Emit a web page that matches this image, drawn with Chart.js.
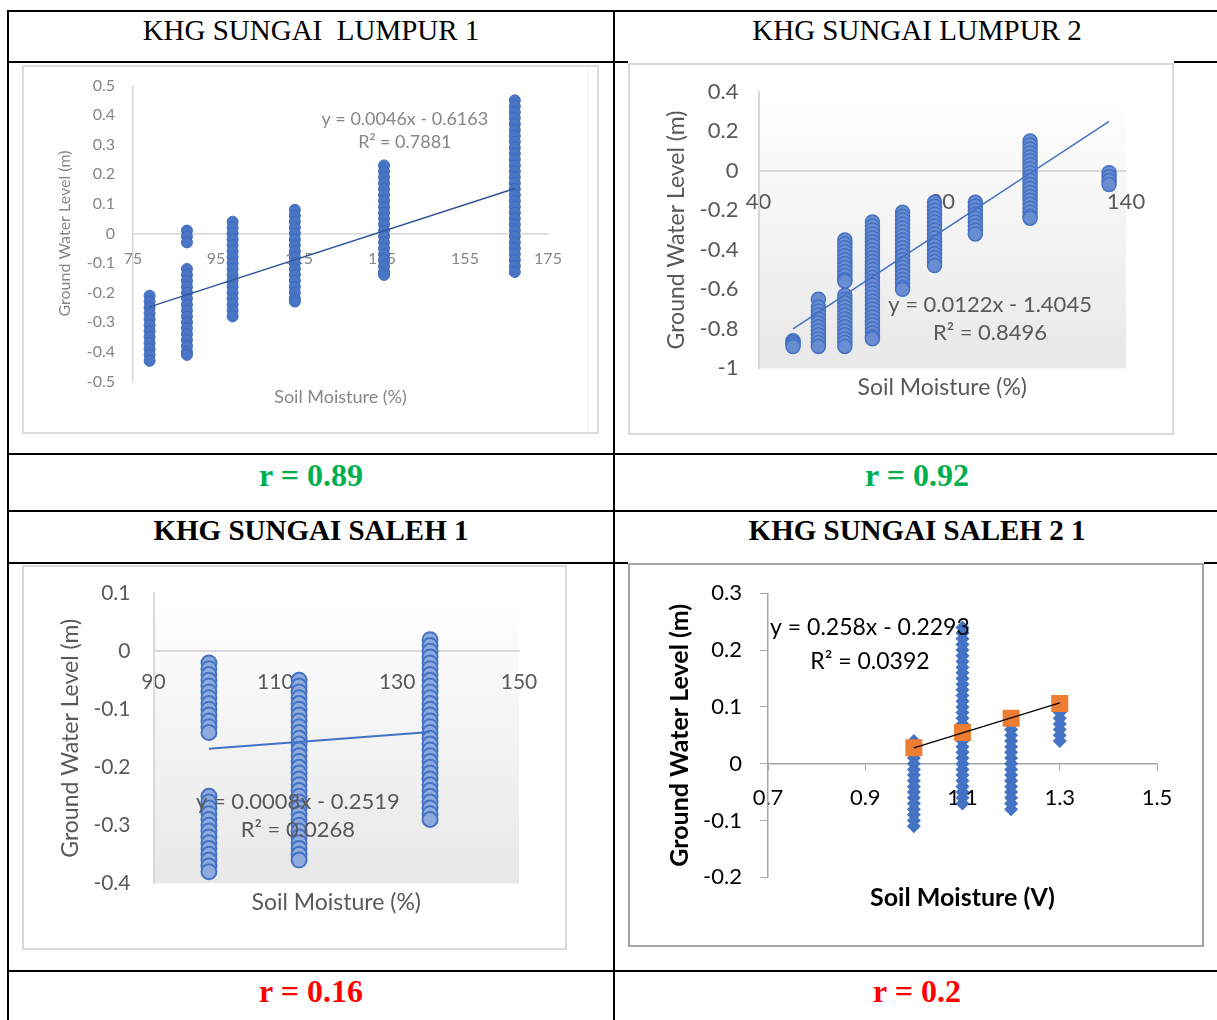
<!DOCTYPE html>
<html>
<head>
<meta charset="utf-8">
<script src="https://cdn.jsdelivr.net/npm/chart.js@4.4.0/dist/chart.umd.min.js"></script>
<style>
  body { margin:0; background:#fff; width:1217px; height:1020px; overflow:hidden; position:relative; font-family:"Liberation Serif", "Times New Roman", serif; }
  .ln { position:absolute; background:#000; }
  .cell { position:absolute; text-align:center; white-space:pre; color:#000; }
  .hdr { font-size:29px; line-height:40px; }
  .b { font-weight:bold; }
  .rv { font-size:32px; line-height:44px; font-weight:bold; }
  .frame { position:absolute; box-sizing:border-box; border:2px solid #d9d9d9; background:#fff; }
  .frame canvas { position:absolute; left:0; top:0; }
  .mask { position:absolute; background:#fff; }
</style>
</head>
<body>
<!-- table rules -->
<div class="ln" style="left:7px;top:10px;width:1212px;height:2px"></div>
<div class="ln" style="left:7px;top:61px;width:1212px;height:2px"></div>
<div class="ln" style="left:7px;top:453px;width:1212px;height:2px"></div>
<div class="ln" style="left:7px;top:510px;width:1212px;height:2px"></div>
<div class="ln" style="left:7px;top:562px;width:1212px;height:2px"></div>
<div class="ln" style="left:7px;top:970px;width:1212px;height:2px"></div>
<div class="ln" style="left:7px;top:10px;width:2px;height:1010px"></div>
<div class="ln" style="left:613px;top:10px;width:2px;height:1010px"></div>

<div class="cell hdr" style="left:9px;width:604px;top:10px">KHG SUNGAI  LUMPUR 1</div>
<div class="cell hdr" style="left:615px;width:604px;top:10px">KHG SUNGAI LUMPUR 2</div>
<div class="cell rv" style="left:9px;width:604px;top:453px;color:#00b050">r = 0.89</div>
<div class="cell rv" style="left:615px;width:604px;top:453px;color:#00b050">r = 0.92</div>
<div class="cell hdr b" style="left:9px;width:604px;top:510px">KHG SUNGAI SALEH 1</div>
<div class="cell hdr b" style="left:615px;width:604px;top:510px">KHG SUNGAI SALEH 2 1</div>
<div class="cell rv" style="left:9px;width:604px;top:969px;color:#ff0000">r = 0.16</div>
<div class="cell rv" style="left:615px;width:604px;top:969px;color:#ff0000">r = 0.2</div>

<div class="mask" style="left:628px;top:60px;width:546px;height:4px"></div>
<div class="mask" style="left:628px;top:561px;width:576px;height:3px"></div>

<div class="frame" id="f1" style="left:22px;top:65px;width:577px;height:369px;border-color:#dcdcdc"><canvas></canvas></div>
<div style="position:absolute;left:587px;top:67px;width:1px;height:365px;background:#ededed"></div>
<div class="frame" id="f2" style="left:628px;top:63px;width:546px;height:372px"><canvas></canvas></div>
<div class="frame" id="f3" style="left:22px;top:565px;width:545px;height:385px"><canvas></canvas></div>
<div class="frame" id="f4" style="left:628px;top:563px;width:576px;height:384px;border-color:#a6a6a6"><canvas></canvas></div>

<script>
// ---- KHG Sungai Lumpur 1 ----
const lumpur1Moisture = [79, 88, 99, 114, 135.5, 167];
const lumpur1Level = [
  [-0.21, -0.23, -0.25, -0.27, -0.29, -0.31, -0.33, -0.35, -0.37, -0.39, -0.41, -0.43],
  [0.01, -0.01, -0.03, -0.12, -0.14, -0.16, -0.18, -0.20, -0.22, -0.24, -0.26, -0.28, -0.30, -0.32, -0.34, -0.36, -0.38, -0.40, -0.41],
  [0.04, 0.02, 0.00, -0.02, -0.04, -0.06, -0.08, -0.10, -0.12, -0.14, -0.16, -0.18, -0.20, -0.22, -0.24, -0.26, -0.28],
  [0.08, 0.06, 0.04, 0.02, 0.00, -0.02, -0.04, -0.06, -0.08, -0.10, -0.12, -0.14, -0.16, -0.18, -0.20, -0.22, -0.23],
  [0.23, 0.21, 0.19, 0.17, 0.15, 0.13, 0.11, 0.09, 0.07, 0.05, 0.03, 0.01, -0.01, -0.03, -0.05, -0.07, -0.09, -0.11, -0.13, -0.14],
  [0.45, 0.43, 0.41, 0.39, 0.37, 0.35, 0.33, 0.31, 0.29, 0.27, 0.25, 0.23, 0.21, 0.19, 0.17, 0.15, 0.13, 0.11, 0.09, 0.07, 0.05, 0.03, 0.01, -0.01, -0.03, -0.05, -0.07, -0.09, -0.11, -0.13]
];
const lumpur1TrendX = [79, 167];
const lumpur1TrendY = [-0.248, 0.152];

// ---- KHG Sungai Lumpur 2 ----
const lumpur2Moisture = [49.4, 56.3, 63.5, 71, 79.2, 87.9, 99, 113.9, 135.4];
const lumpur2Level = [
  [-0.86, -0.87, -0.88, -0.89],
  [-0.65, -0.69, -0.71, -0.73, -0.75, -0.77, -0.79, -0.81, -0.83, -0.85, -0.87, -0.89],
  [-0.35, -0.37, -0.39, -0.41, -0.43, -0.45, -0.47, -0.49, -0.51, -0.53, -0.55, -0.56, -0.63, -0.65, -0.67, -0.69, -0.71, -0.73, -0.75, -0.77, -0.79, -0.81, -0.83, -0.85, -0.87, -0.89],
  [-0.26, -0.28, -0.30, -0.32, -0.34, -0.36, -0.38, -0.40, -0.42, -0.44, -0.46, -0.48, -0.50, -0.52, -0.54, -0.56, -0.58, -0.60, -0.62, -0.64, -0.66, -0.68, -0.70, -0.72, -0.74, -0.76, -0.78, -0.80, -0.82, -0.84, -0.85],
  [-0.21, -0.23, -0.25, -0.27, -0.29, -0.31, -0.33, -0.35, -0.37, -0.39, -0.41, -0.43, -0.45, -0.47, -0.49, -0.51, -0.53, -0.55, -0.57, -0.59, -0.60],
  [-0.16, -0.18, -0.20, -0.22, -0.24, -0.26, -0.28, -0.30, -0.32, -0.34, -0.36, -0.38, -0.40, -0.42, -0.44, -0.46, -0.48],
  [-0.16, -0.18, -0.20, -0.22, -0.24, -0.26, -0.28, -0.30, -0.32],
  [0.15, 0.13, 0.11, 0.09, 0.07, 0.05, 0.03, 0.01, -0.01, -0.03, -0.05, -0.07, -0.09, -0.11, -0.13, -0.15, -0.17, -0.19, -0.21, -0.23, -0.24],
  [-0.01, -0.03, -0.05, -0.07]
];
const lumpur2TrendX = [49.4, 135.4];
const lumpur2TrendY = [-0.80, 0.25];

// ---- KHG Sungai Saleh 1 ----
const saleh1Moisture = [99.1, 113.9, 135.4];
const saleh1Level = [
  [-0.02, -0.03, -0.04, -0.05, -0.06, -0.07, -0.08, -0.09, -0.10, -0.11, -0.12, -0.13, -0.14,
   -0.25, -0.26, -0.27, -0.28, -0.29, -0.30, -0.31, -0.32, -0.33, -0.34, -0.35, -0.36, -0.37, -0.38],
  [-0.05, -0.06, -0.07, -0.08, -0.09, -0.10, -0.11, -0.12, -0.13, -0.14, -0.15, -0.16, -0.17, -0.18, -0.19, -0.20,
   -0.21, -0.22, -0.23, -0.24, -0.25, -0.26, -0.27, -0.28, -0.29, -0.30, -0.31, -0.32, -0.33, -0.34, -0.35, -0.36],
  [0.02, 0.01, 0.00, -0.01, -0.02, -0.03, -0.04, -0.05, -0.06, -0.07, -0.08, -0.09, -0.10, -0.11, -0.12, -0.13,
   -0.14, -0.15, -0.16, -0.17, -0.18, -0.19, -0.20, -0.21, -0.22, -0.23, -0.24, -0.25, -0.26, -0.27, -0.28, -0.29]
];
const saleh1TrendX = [99.1, 135.4];
const saleh1TrendY = [-0.168, -0.139];

// ---- KHG Sungai Saleh 2 1 (voltage) ----
const saleh2Voltage = [1.0, 1.1, 1.2, 1.3];
const saleh2Level = [
  [0.04, 0.03, 0.02, 0.01, 0.00, -0.01, -0.02, -0.03, -0.04, -0.05, -0.06, -0.07, -0.08, -0.09, -0.10, -0.11],
  [0.24, 0.23, 0.22, 0.21, 0.20, 0.19, 0.18, 0.17, 0.16, 0.15, 0.14, 0.13, 0.12, 0.11, 0.10, 0.09,
   0.08, 0.07, 0.06, 0.05, 0.04, 0.03, 0.02, 0.01, 0.00, -0.01, -0.02, -0.03, -0.04, -0.05, -0.06, -0.07],
  [0.08, 0.07, 0.06, 0.05, 0.04, 0.03, 0.02, 0.01, 0.00, -0.01, -0.02, -0.03, -0.04, -0.05, -0.06, -0.07, -0.08],
  [0.09, 0.08, 0.07, 0.06, 0.05, 0.04]
];
const saleh2Mean = [0.028, 0.055, 0.080, 0.106];
const saleh2TrendX = [1.0, 1.3];
const saleh2TrendY = [0.028, 0.107];

const toPoints = (xs, ys) => xs.flatMap((x, i) => ys[i].map(y => ({ x, y })));
const pairs = (xs, ys) => xs.map((x, i) => ({ x, y: ys[i] }));
const fmt = v => String(+(+v).toFixed(3));

Chart.defaults.font.family = 'Lato, "Noto Sans", sans-serif';

// shaded plot area, equation labels and the x title
const extras = {
  id: 'extras',
  beforeDraw(chart, args, o) {
    if (!o.shade) return;
    const { ctx, chartArea: a } = chart;
    const gr = ctx.createLinearGradient(0, a.top, 0, a.bottom);
    gr.addColorStop(0, '#ffffff');
    gr.addColorStop(1, o.shade);
    ctx.save();
    ctx.fillStyle = gr;
    ctx.fillRect(a.left, a.top, a.right - a.left, a.bottom - a.top);
    ctx.restore();
  },
  afterDraw(chart, args, o) {
    const { ctx, chartArea: a, scales } = chart;
    ctx.save();
    ctx.textAlign = 'center';
    ctx.textBaseline = 'middle';
    ctx.fillStyle = o.color;
    ctx.font = o.eqFont;
    o.notes.forEach(n => ctx.fillText(n.text, scales.x.getPixelForValue(n.x), scales.y.getPixelForValue(n.y)));
    ctx.font = o.titleFont;
    ctx.fillText(o.xTitle, (a.left + a.right) / 2, o.xTitleY);
    ctx.restore();
  }
};

function drawChart(id, g, s, datasets) {
  const cv = document.querySelector('#' + id + ' canvas');
  const cx = g.frame[0] + 2, cy = g.frame[1] + 2;
  const cw = g.frame[2] - 4, ch = g.frame[3] - 4;
  cv.width = cw;
  cv.height = ch;
  const weight = s.bold ? 'bold' : 'normal';
  const scaleLeft = g.yTitleX - s.title * 1.2 / 2;
  const grid = s.ticks
    ? { display: true, drawOnChartArea: false, drawTicks: true, color: s.axis }
    : { display: false, drawTicks: false };
  return new Chart(cv, {
    type: 'scatter',
    data: { datasets },
    options: {
      responsive: false,
      animation: false,
      layout: { padding: { left: scaleLeft - cx, top: g.plot[2] - cy, right: cx + cw - g.plot[1], bottom: cy + ch - g.plot[3] } },
      plugins: {
        legend: { display: false },
        tooltip: { enabled: false },
        extras: {
          shade: s.shade, color: s.textColor, notes: g.notes,
          eqFont: s.eq + 'px Lato', titleFont: weight + ' ' + s.xTitle + 'px Lato',
          xTitle: g.xTitle, xTitleY: g.xTitleY - cy
        }
      },
      scales: {
        x: {
          type: 'linear', min: g.x[0], max: g.x[1], position: { y: 0 },
          afterFit: sc => { sc.paddingLeft = 0; sc.paddingRight = 0; },
          grid: Object.assign({}, grid, { tickLength: 6 }),
          border: { display: true, color: s.axis, width: s.axisWidth },
          ticks: { stepSize: g.x[2], padding: s.xPad, color: s.textColor, font: { size: s.tick }, callback: fmt }
        },
        y: {
          type: 'linear', min: g.y[0], max: g.y[1],
          afterFit: sc => { sc.width = g.plot[0] - scaleLeft; sc.paddingTop = 0; sc.paddingBottom = 0; },
          grid: Object.assign({}, grid, { tickLength: 8 }),
          border: { display: true, color: s.axis, width: s.axisWidth },
          ticks: { stepSize: g.y[2], padding: s.yPad, color: s.textColor, font: { size: s.tick }, callback: fmt },
          title: { display: true, text: 'Ground Water Level (m)', padding: 0, color: s.textColor, font: { size: s.title, weight } }
        }
      }
    },
    plugins: [extras]
  });
}

drawChart('f1', {
  frame: [22, 65, 577, 369], plot: [133, 548, 85.5, 381.5],
  x: [75, 175, 20], y: [-0.5, 0.5, 0.1],
  yTitleX: 65, xTitleY: 397, xTitle: 'Soil Moisture (%)',
  notes: [{ text: 'y = 0.0046x - 0.6163', x: 140.5, y: 0.386 }, { text: 'R\u00b2 = 0.7881', x: 140.5, y: 0.308 }]
}, { tick: 16, title: 16, xTitle: 18, eq: 18, textColor: '#868686', axis: '#d6d6d6', axisWidth: 1.5, xPad: 16, yPad: 18 }, [
  { data: pairs(lumpur1TrendX, lumpur1TrendY), showLine: true, borderColor: '#2f5597', borderWidth: 1.5, pointRadius: 0, order: 0 },
  { data: toPoints(lumpur1Moisture, lumpur1Level), pointRadius: 5.5, backgroundColor: '#4a76c6', borderColor: '#3d69bb', borderWidth: 1, order: 1 }
]);

drawChart('f2', {
  frame: [628, 63, 546, 372], plot: [758.5, 1126, 91.7, 368.3],
  x: [40, 140, 50], y: [-1, 0.4, 0.2],
  yTitleX: 677, xTitleY: 388, xTitle: 'Soil Moisture (%)',
  notes: [{ text: 'y = 0.0122x - 1.4045', x: 103, y: -0.678 }, { text: 'R\u00b2 = 0.8496', x: 103, y: -0.82 }]
}, { tick: 22, title: 23, xTitle: 23, eq: 22, textColor: '#595959', axis: '#d9d9d9', axisWidth: 2, xPad: 18, yPad: 20, shade: '#e8e8e8' }, [
  { data: pairs(lumpur2TrendX, lumpur2TrendY), showLine: true, borderColor: '#4472c4', borderWidth: 1.5, pointRadius: 0, order: 0 },
  { data: toPoints(lumpur2Moisture, lumpur2Level), pointRadius: 7, backgroundColor: '#6a8dd2', borderColor: '#4472c4', borderWidth: 1.5, order: 1 }
]);

drawChart('f3', {
  frame: [22, 565, 545, 385], plot: [153.5, 519, 593.3, 883.3],
  x: [90, 150, 20], y: [-0.4, 0.1, 0.1],
  yTitleX: 71, xTitleY: 903, xTitle: 'Soil Moisture (%)',
  notes: [{ text: 'y = 0.0008x - 0.2519', x: 113.7, y: -0.259 }, { text: 'R\u00b2 = 0.0268', x: 113.7, y: -0.308 }]
}, { tick: 21, title: 23, xTitle: 23, eq: 22, textColor: '#595959', axis: '#d9d9d9', axisWidth: 2, xPad: 18, yPad: 23, shade: '#e8e8e8' }, [
  { data: pairs(saleh1TrendX, saleh1TrendY), showLine: true, borderColor: '#4472c4', borderWidth: 2, pointRadius: 0, order: 0 },
  { data: toPoints(saleh1Moisture, saleh1Level), pointRadius: 7.5, backgroundColor: '#8faadc', borderColor: '#4472c4', borderWidth: 2, order: 1 }
]);

drawChart('f4', {
  frame: [628, 563, 576, 384], plot: [768, 1157, 593.3, 877.3],
  x: [0.7, 1.5, 0.2], y: [-0.2, 0.3, 0.1],
  yTitleX: 680, xTitleY: 898, xTitle: 'Soil Moisture (V)',
  notes: [{ text: 'y = 0.258x - 0.2293', x: 0.9096, y: 0.239 }, { text: 'R\u00b2 = 0.0392', x: 0.9096, y: 0.180 }]
}, { tick: 22, title: 25, xTitle: 25, eq: 23, textColor: '#000000', bold: true, ticks: true, axis: '#a6a6a6', axisWidth: 1.5, xPad: 15, yPad: 18 }, [
  { data: pairs(saleh2TrendX, saleh2TrendY), showLine: true, borderColor: '#000000', borderWidth: 1.25, pointRadius: 0, order: 0 },
  { data: pairs(saleh2Voltage, saleh2Mean), pointStyle: 'rect', pointRadius: 12, backgroundColor: '#ed7d31', borderWidth: 0, order: 1 },
  { data: toPoints(saleh2Voltage, saleh2Level), pointStyle: 'rectRot', pointRadius: 7, backgroundColor: '#4472c4', borderWidth: 0, order: 2 }
]);
</script>
</body>
</html>
